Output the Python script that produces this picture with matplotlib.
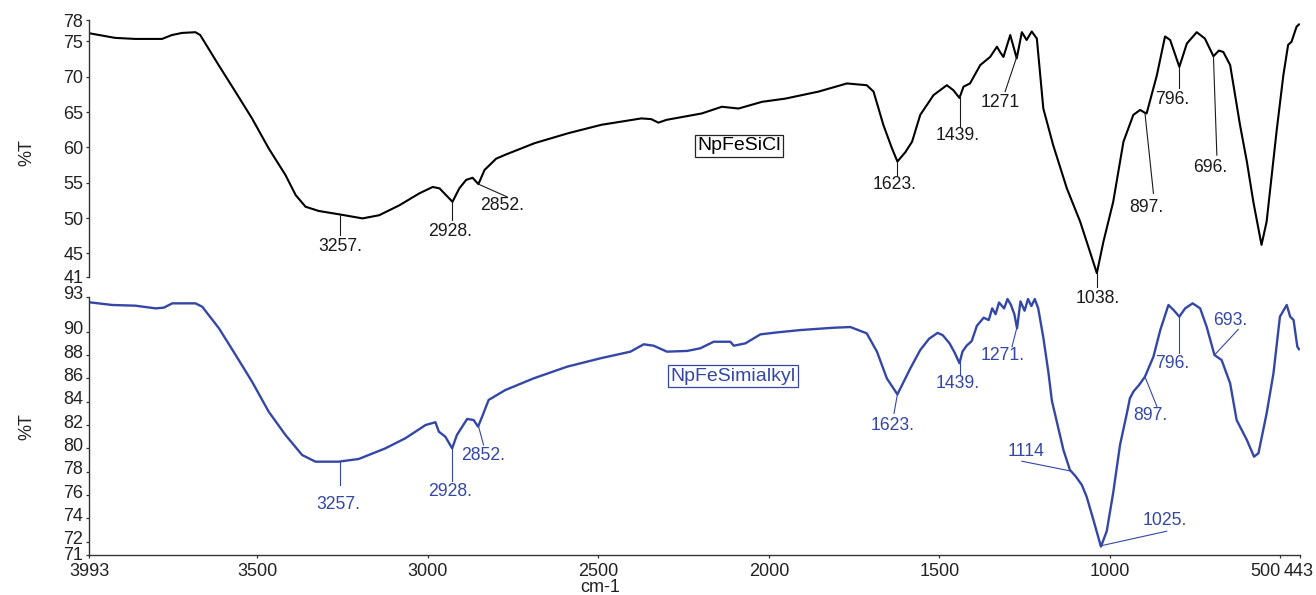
import numpy as np
import matplotlib
matplotlib.use('Agg')
import matplotlib.pyplot as plt
import matplotlib.transforms as mtransforms

plt.rcParams['font.family'] = ['Liberation Sans', 'DejaVu Sans']

# wavenumber ticks (cm-1)
x_ticks = [3993, 3500, 3000, 2500, 2000, 1500, 1000, 500, 443]

# NpFeSiCl spectrum
top_wn = [3993, 3918, 3859, 3780, 3751, 3721, 3682, 3668, 3614, 3565, 3516, 3467, 3418, 3388,
          3359, 3320, 3257, 3192, 3143, 3084, 3025, 2986, 2966, 2947, 2928, 2908, 2888, 2869,
          2852, 2834, 2800, 2771, 2687, 2589, 2491, 2374, 2345, 2324, 2300, 2197, 2138, 2089,
          2020, 1952, 1854, 1771, 1713, 1693, 1664, 1640, 1623, 1600, 1580, 1556, 1517, 1478,
          1459, 1441, 1429, 1410, 1380, 1351, 1331, 1322, 1312, 1292, 1273, 1258, 1244, 1229,
          1214, 1195, 1166, 1126, 1087, 1058, 1038, 1019, 990, 960, 931, 911, 897, 892, 862,
          838, 823, 796, 774, 745, 721, 696, 680, 667, 647, 618, 598, 579, 555, 540, 511, 491,
          477, 467, 452, 445]
top_t = [76.15, 75.5, 75.35, 75.35, 75.9, 76.2, 76.3, 75.9, 71.65, 67.9, 64.1, 59.85, 56.1, 53.25,
         51.6, 51.0, 50.5, 49.95, 50.4, 51.8, 53.5, 54.4, 54.2, 53.25, 52.3, 54.2, 55.4, 55.7,
         54.8, 56.8, 58.4, 59.0, 60.6, 62.0, 63.2, 64.1, 64.0, 63.5, 63.9, 64.8, 65.75, 65.5,
         66.45, 66.9, 67.9, 69.05, 68.8, 67.9, 63.15, 60.0, 58.0, 59.3, 60.8, 64.6, 67.4, 68.8,
         68.1, 67.0, 68.6, 69.05, 71.65, 72.8, 74.25, 73.5, 72.8, 75.9, 72.6, 76.3, 75.2, 76.4,
         75.4, 65.5, 60.3, 54.2, 49.5, 45.2, 42.2, 46.6, 52.3, 60.8, 64.6, 65.3, 64.9, 64.8, 70.2,
         75.7, 75.2, 71.4, 74.7, 76.3, 75.4, 72.9, 73.7, 73.5, 71.65, 63.15, 58.0, 52.3, 46.2,
         49.5, 62.2, 70.2, 74.5, 74.95, 77.1, 77.4]
top_peaks = [3257, 2928, 2852, 1623, 1439, 1271, 1038, 897, 796, 696]
top_peak_labels = ['3257.', '2928.', '2852.', '1623.', '1439.', '1271', '1038.', '897.', '796.', '696.']
top_yticks = [41, 45, 50, 55, 60, 65, 70, 75, 78]

# NpFeSimialkyl spectrum
bot_wn = [3993, 3926, 3858, 3799, 3775, 3750, 3682, 3662, 3613, 3564, 3516, 3467, 3418, 3369,
          3330, 3262, 3203, 3125, 3066, 3007, 2978, 2968, 2949, 2929, 2915, 2885, 2866, 2853,
          2841, 2822, 2773, 2690, 2592, 2494, 2406, 2367, 2338, 2299, 2240, 2201, 2162, 2113,
          2103, 2069, 2025, 1976, 1908, 1810, 1761, 1713, 1683, 1654, 1623, 1585, 1556, 1530,
          1505, 1490, 1470, 1455, 1441, 1432, 1420, 1405, 1390, 1370, 1355, 1345, 1335, 1325,
          1310, 1300, 1290, 1280, 1272, 1262, 1250, 1240, 1230, 1220, 1210, 1195, 1180, 1170,
          1136, 1117, 1100, 1082, 1068, 1048, 1026, 1009, 990, 970, 950, 941, 930, 915, 897,
          872, 852, 828, 813, 796, 779, 757, 735, 716, 693, 672, 647, 628, 598, 577, 564, 540,
          520, 501, 481, 471, 461, 450, 445]
bot_t = [92.52, 92.29, 92.23, 92.0, 92.06, 92.43, 92.43, 92.14, 90.29, 88.0, 85.72, 83.14, 81.15, 79.43,
         78.86, 78.86, 79.09, 80.0, 80.87, 82.0, 82.24, 81.43, 81.0, 80.0, 81.15, 82.52, 82.43, 81.86,
         82.72, 84.15, 85.0, 86.0, 87.0, 87.72, 88.29, 88.92, 88.8, 88.29, 88.35, 88.58, 89.14, 89.14,
         88.8, 89.0, 89.77, 89.94, 90.14, 90.34, 90.4, 89.86, 88.29, 86.0, 84.63, 86.86, 88.43, 89.4,
         89.9, 89.7, 89.0, 88.2, 87.3, 88.3, 88.8, 89.2, 90.5, 91.2, 91.0, 92.0, 91.5, 92.5,
         92.0, 92.8, 92.3, 91.5, 90.3, 92.6, 91.8, 92.8, 92.2, 92.8, 92.0, 89.5, 86.5, 84.1,
         79.86, 78.15, 77.6, 76.86, 75.86, 73.86, 71.58, 72.9, 76.2, 80.3, 83.0, 84.3, 84.9, 85.4, 86.14,
         87.86, 90.14, 92.29, 91.86, 91.29, 92.0, 92.43, 92.0, 90.43, 88.0, 87.57, 85.57, 82.43, 80.72,
         79.29, 79.58, 83.0, 86.43, 91.29, 92.29, 91.29, 91.0, 88.72, 88.5]
bot_peaks = [3257, 2928, 2852, 1623, 1439, 1271, 1114, 1025, 897, 796, 693]
bot_peak_labels = ['3257.', '2928.', '2852.', '1623.', '1439.', '1271.', '1114', '1025.', '897.', '796.', '693.']
bot_yticks = [71, 72, 74, 76, 78, 80, 82, 84, 86, 88, 90, 93]

# label layout: (line end wn, line end T, text wn, text T)
top_label_pos = [(3257, 47.6, 3257, 46.0), (2928, 49.7, 2934, 48.1), (2768, 53.0, 2782, 51.8),
                 (1623, 56.1, 1630, 54.7), (1439, 62.9, 1445, 61.7), (1307, 67.9, 1322, 66.4),
                 (1038, 40.2, 1034, 38.6), (872, 53.5, 894, 51.5), (796, 68.4, 817, 66.8),
                 (686, 58.9, 706, 57.1)]
bot_label_pos = [(3257, 76.9, 3262, 75.2), (2928, 77.2, 2934, 76.3), (2837, 80.3, 2837, 79.4),
                 (1633, 83.0, 1638, 82.0), (1439, 86.3, 1445, 85.6), (1287, 88.7, 1313, 88.0),
                 (1258, 78.9, 1245, 79.7), (833, 72.9, 838, 73.8), (862, 83.6, 882, 82.8),
                 (796, 88.2, 817, 87.3), (623, 90.2, 647, 91.0)]

W, H = 1316, 595
x_left, x_right = 89.4, 1299.7
blue = '#3447a6'


def style_axis(ax, ylo, yhi, ticks):
    ax.set_xlim(x_ticks[0], x_ticks[-1])
    ax.set_ylim(ylo, yhi)
    # end ticks sit on the axis limits, like the instrument software does
    pos = [ylo if t == ticks[0] else yhi if t == ticks[-1] else t for t in ticks]
    ax.set_yticks(pos, labels=[str(t) for t in ticks])
    for s in ['top', 'right']:
        ax.spines[s].set_visible(False)
    for s in ['left', 'bottom']:
        ax.spines[s].set_color('#333333')
        ax.spines[s].set_linewidth(1.0)
    ax.tick_params(axis='both', direction='out', length=2.5, width=0.9, pad=1.8,
                   labelsize=13, colors='#333333', labelcolor='#222222')


def draw_peaks(ax, wn, t, peaks, labels, pos, color):
    wn_a = np.array(wn)[::-1]
    t_a = np.array(t)[::-1]
    for p, lab, (lx, ly, tx, ty) in zip(peaks, labels, pos):
        py = np.interp(p, wn_a, t_a)
        ax.plot([p, lx], [py, ly], color=color, lw=0.8, clip_on=False)
        ax.text(tx, ty, lab, color=color, fontsize=12.7, ha='center', va='center', clip_on=False)


fig = plt.figure(figsize=(W / 100, H / 100), dpi=100)
ax1 = fig.add_axes([x_left / W, 1 - 276.7 / H, (x_right - x_left) / W, 256.5 / H])
ax2 = fig.add_axes([x_left / W, 1 - 555 / H, (x_right - x_left) / W, 258.3 / H])
ax1.set_zorder(2)
ax1.patch.set_visible(False)

# top panel
ax1.plot(top_wn, top_t, color='black', lw=1.5)
style_axis(ax1, 41.7, 78.0, top_yticks)
ax1.spines['bottom'].set_visible(False)
ax1.set_xticks([])
draw_peaks(ax1, top_wn, top_t, top_peaks, top_peak_labels, top_label_pos, '#1a1a1a')
ax1.text(2087, 60.2, 'NpFeSiCl', fontsize=14, color='black', ha='center', va='center',
         bbox=dict(boxstyle='square,pad=0.12', fc='white', ec='#222222', lw=0.9))

# bottom panel
ax2.plot(bot_wn, bot_t, color=blue, lw=1.7)
style_axis(ax2, 70.86, 93.0, bot_yticks)
ax2.set_xticks(x_ticks, labels=[str(v) for v in x_ticks])
ax2.tick_params(axis='x', pad=3.0)
xl = ax2.get_xticklabels()
xl[7].set_ha('right')
xl[8].set_ha('left')
xl[8].set_transform(xl[8].get_transform() + mtransforms.ScaledTranslation(-16 / 100, 0, fig.dpi_scale_trans))
# bottom panel labels sit a little above their ticks
yl = ax2.get_yticklabels()
for i, lab in enumerate(yl):
    up = 1 if i == 0 else 4
    lab.set_transform(lab.get_transform() + mtransforms.ScaledTranslation(0, up / 100, fig.dpi_scale_trans))
draw_peaks(ax2, bot_wn, bot_t, bot_peaks, bot_peak_labels, bot_label_pos, blue)
ax2.text(2105, 86.2, 'NpFeSimialkyl', fontsize=14, color=blue, ha='center', va='center',
         bbox=dict(boxstyle='square,pad=0.12', fc='white', ec=blue, lw=0.9))

fig.text(27 / W, 1 - 153 / H, '%T', rotation=90, fontsize=13, ha='center', va='center', color='#222222')
fig.text(27 / W, 1 - 427 / H, '%T', rotation=90, fontsize=13, ha='center', va='center', color='#222222')
fig.text(600 / W, 1 - 588 / H, 'cm-1', fontsize=13, ha='center', va='center', color='#222222')

fig.savefig('out.png', dpi=100)
